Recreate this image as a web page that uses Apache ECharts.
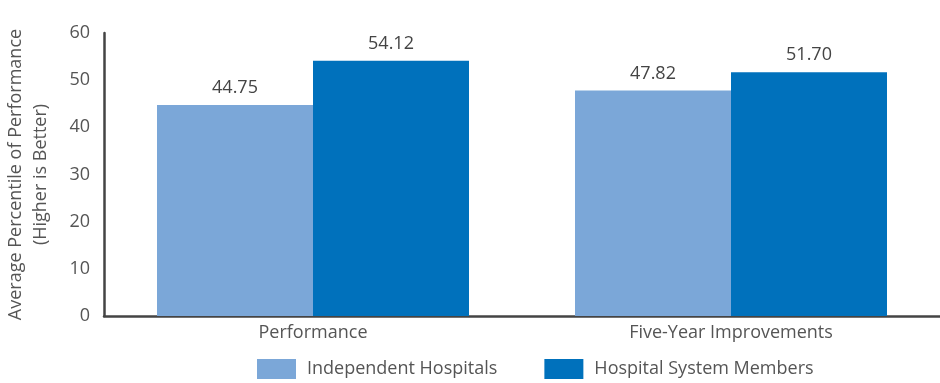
<!DOCTYPE html>
<html><head><meta charset="utf-8">
<script src="https://cdn.jsdelivr.net/npm/echarts@6/dist/echarts.min.js"></script>
<style>html,body{margin:0;padding:0;background:#fff}#c{width:940px;height:383px}</style>
</head><body><div id="c"></div>
<script>
const categories = ["Performance", "Five-Year Improvements"];
const seriesNames = ["Independent Hospitals", "Hospital System Members"];
const independent = [44.75, 47.82];
const systemMembers = [54.12, 51.70];
const yTicks = [0, 10, 20, 30, 40, 50, 60];
const colors = ["#7BA7D8", "#0071BC"];
const font = "Open Sans";
const chart = echarts.init(document.getElementById('c'));
chart.setOption({
  animation: false,
  textStyle: {fontFamily: font},
  grid: {left: 104, right: 0, top: 33, bottom: 67, outerBoundsMode: 'none', containLabel: false},
  legend: {
    top: 359, left: 257, padding: 0, itemWidth: 39, itemHeight: 20, itemGap: 47,
    textStyle: {fontSize: 18, color: '#555', fontFamily: font, padding: [0, 0, 0, 6]},
    icon: 'rect',
    data: seriesNames
  },
  xAxis: {
    type: 'category', data: categories,
    axisLine: {lineStyle: {color: '#444', width: 2.5}},
    axisTick: {show: false},
    axisLabel: {fontSize: 18, color: '#555', margin: 8, fontFamily: font}
  },
  yAxis: {
    type: 'value', min: yTicks[0], max: yTicks[yTicks.length-1], interval: 10,
    name: 'Average Percentile of Performance\n(Higher is Better)',
    nameLocation: 'middle', nameGap: 51, nameRotate: 90,
    nameTextStyle: {fontSize: 18, color: '#555', lineHeight: 25, fontFamily: font},
    axisLine: {show: true, lineStyle: {color: '#444', width: 2.5}},
    axisTick: {show: false},
    splitLine: {show: false},
    axisLabel: {fontSize: 18, color: '#555', margin: 14, fontFamily: font}
  },
  series: [
    {name: seriesNames[0], type: 'bar', data: independent, barWidth: 156, barGap: '0%',
     itemStyle: {color: colors[0]},
     label: {show: true, position: 'top', fontSize: 18, color: '#444', distance: 8,
             formatter: p => p.value.toFixed(2)}},
    {name: seriesNames[1], type: 'bar', data: systemMembers, barWidth: 156, barGap: '0%',
     itemStyle: {color: colors[1]},
     label: {show: true, position: 'top', fontSize: 18, color: '#444', distance: 8,
             formatter: p => p.value.toFixed(2)}}
  ]
});
</script></body></html>
